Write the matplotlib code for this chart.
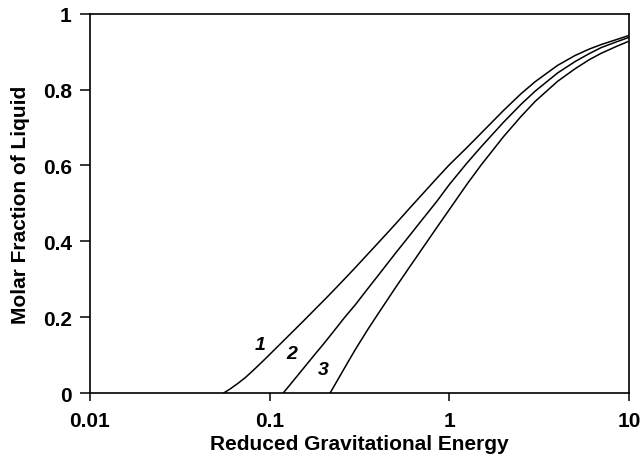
import matplotlib
matplotlib.use("Agg")
import matplotlib.pyplot as plt
from matplotlib.ticker import FixedLocator, FixedFormatter

plt.rcParams["font.family"] = ["Liberation Sans", "DejaVu Sans"]

# curve values (x on log scale)
x1 = [0.0555, 0.06, 0.066, 0.073, 0.082, 0.0945, 0.11, 0.1325, 0.155, 0.179, 0.205, 0.236,
      0.27, 0.30, 0.4, 0.5, 0.6, 0.7, 0.85, 1.0, 1.25, 1.5, 2.0, 2.5, 3.0, 4.0, 5.0, 6.0,
      7.0, 8.5, 10.0]
y1 = [0.0, 0.01, 0.024, 0.04, 0.062, 0.09, 0.121, 0.159, 0.191, 0.221, 0.249, 0.279,
      0.308, 0.331, 0.395, 0.445, 0.487, 0.522, 0.566, 0.602, 0.647, 0.685, 0.745, 0.789,
      0.821, 0.864, 0.89, 0.907, 0.919, 0.932, 0.943]

x2 = [0.119, 0.13, 0.15, 0.175, 0.2, 0.23, 0.262, 0.3, 0.35, 0.4, 0.5, 0.6, 0.7, 0.85,
      1.0, 1.25, 1.5, 2.0, 2.5, 3.0, 4.0, 5.0, 6.0, 7.0, 8.5, 10.0]
y2 = [0.0, 0.022, 0.058, 0.097, 0.13, 0.166, 0.2, 0.233, 0.274, 0.309, 0.368, 0.415,
      0.455, 0.505, 0.55, 0.606, 0.649, 0.714, 0.761, 0.796, 0.844, 0.874, 0.895, 0.911,
      0.926, 0.938]

x3 = [0.217, 0.24, 0.27, 0.3, 0.35, 0.4, 0.5, 0.6, 0.7, 0.85, 1.0, 1.25, 1.5, 2.0, 2.5,
      3.0, 4.0, 5.0, 6.0, 7.0, 8.5, 10.0]
y3 = [0.0, 0.036, 0.078, 0.115, 0.166, 0.208, 0.277, 0.332, 0.378, 0.436, 0.484, 0.55,
      0.601, 0.676, 0.729, 0.769, 0.822, 0.855, 0.879, 0.896, 0.914, 0.928]

curve_labels = ["1", "2", "3"]
label_x = [0.088, 0.1325, 0.1985]
label_y = [0.129, 0.103, 0.063]

x_ticks = [0.01, 0.1, 1, 10]
x_tick_labels = ["0.01", "0.1", "1", "10"]
y_ticks = [0, 0.2, 0.4, 0.6, 0.8, 1]
y_tick_labels = ["0", "0.2", "0.4", "0.6", "0.8", "1"]

fig = plt.figure(figsize=(6.42, 4.77), dpi=100)
ax = fig.add_axes([0.140, 0.174, 0.840, 0.795])

for xs, ys in [(x1, y1), (x2, y2), (x3, y3)]:
    ax.plot(xs, ys, color="black", linewidth=1.1)

for t, lx, ly in zip(curve_labels, label_x, label_y):
    ax.text(lx, ly, t, fontsize=14, fontweight="bold", fontstyle="italic",
            ha="center", va="center")

ax.set_xscale("log")
ax.set_xlim(0.01, 10)
ax.set_ylim(0, 1)
ax.xaxis.set_major_locator(FixedLocator(x_ticks))
ax.xaxis.set_major_formatter(FixedFormatter(x_tick_labels))
ax.xaxis.set_minor_locator(FixedLocator([]))
ax.yaxis.set_major_locator(FixedLocator(y_ticks))
ax.yaxis.set_major_formatter(FixedFormatter(y_tick_labels))

ax.tick_params(axis="x", direction="out", length=6, width=1.1, labelsize=15, pad=7)
ax.tick_params(axis="y", direction="out", length=7, width=1.1, labelsize=15, pad=6)
for lab in ax.get_xticklabels() + ax.get_yticklabels():
    lab.set_fontweight("bold")
for sp in ax.spines.values():
    sp.set_linewidth(1.2)

ax.set_xlabel("Reduced Gravitational Energy", fontsize=15, fontweight="bold", labelpad=3)
ax.set_ylabel("Molar Fraction of Liquid", fontsize=15, fontweight="bold", labelpad=9)

fig.savefig("out.png", dpi=100)
